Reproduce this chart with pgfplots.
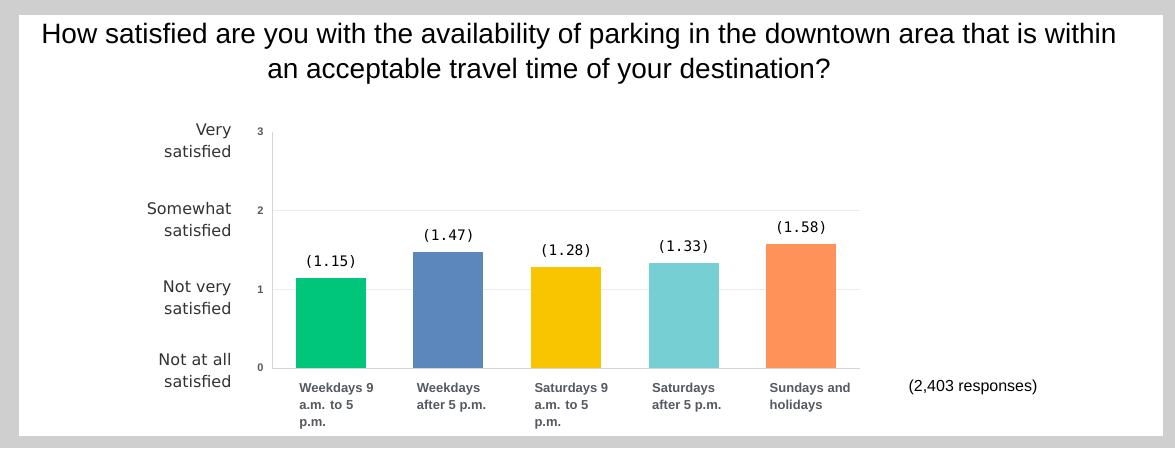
\documentclass[border=0pt]{standalone}
\usepackage{fontspec}
\setmainfont{Liberation Sans}
\newfontfamily\dejavu{DejaVu Sans}
\newfontfamily\mono{DejaVu Sans Mono}
\usepackage{pgfplots}
\pgfplotsset{compat=1.18}
\definecolor{bggray}{HTML}{D0CFD0}
\definecolor{cgreen}{HTML}{00C67C}
\definecolor{cblue}{HTML}{5B87BD}
\definecolor{cyellow}{HTML}{F9C400}
\definecolor{cteal}{HTML}{76CFD3}
\definecolor{corange}{HTML}{FF9259}
\definecolor{tickgray}{HTML}{555A60}
\definecolor{gridgray}{HTML}{EBEBEB}
\definecolor{axgray}{HTML}{D5D5D5}
\definecolor{labgray}{HTML}{333333}
\begin{document}
\begin{tikzpicture}[x=1pt,y=1pt]
\fill[bggray] (0,0) rectangle (1175,-448);
\fill[white] (19,-15) rectangle (1163,-436);
\node[font=\fontsize{28}{32}\selectfont, anchor=base] at (579,-43) {How satisfied are you with the availability of parking in the downtown area that is within};
\node[font=\fontsize{28}{32}\selectfont, anchor=base] at (549,-78) {an acceptable travel time of your destination?};
\node[font=\fontsize{16}{18}\selectfont, anchor=base west] at (905,-391) {(2,403 responses)};
\begin{axis}[
  at={(272pt,-368pt)}, anchor=south west,
  scale only axis, width=588pt, height=236pt,
  xmin=-0.5, xmax=4.5, ymin=0, ymax=3,
  axis lines*=left,
  axis line style={axgray, line width=0.8pt},
  x axis line style={-}, y axis line style={-},
  ytick={0,1,2},
  extra y ticks={3}, extra y tick style={grid=none},
  ymajorgrids, grid style={gridgray, line width=0.8pt},
  major tick length=0pt,
  yticklabel style={font=\fontsize{11}{12}\selectfont\bfseries, text=tickgray},
  yticklabel shift=5pt,
  xtick={0,1,2,3,4},
  xticklabels={{Weekdays 9\\a.m. to 5\\p.m.},{Weekdays\\after 5 p.m.},{Saturdays 9\\a.m. to 5\\p.m.},{Saturdays\\after 5 p.m.},{Sundays and\\holidays}},
  xticklabel style={font=\fontsize{13}{17}\selectfont\bfseries, text=tickgray, align=left, anchor=north west, xshift=-35pt, yshift=-12pt},
  ybar, bar width=70pt, bar shift=0pt,
  nodes near coords={\mono(\pgfmathprintnumber[fixed,fixed zerofill,precision=2]{\pgfplotspointmeta})},
  nodes near coords style={font=\fontsize{14.5}{17}\selectfont, text=black, yshift=6pt},
  clip=false,
  /pgf/number format/assume math mode=true,
]
\addplot[fill=cgreen, draw=none] coordinates {(0,1.15)};
\addplot[fill=cblue, draw=none] coordinates {(1,1.47)};
\addplot[fill=cyellow, draw=none] coordinates {(2,1.28)};
\addplot[fill=cteal, draw=none] coordinates {(3,1.33)};
\addplot[fill=corange, draw=none] coordinates {(4,1.58)};
\end{axis}
\begin{scope}[font=\dejavu\fontsize{16}{22}\selectfont, align=right, text=labgray]
\node[anchor=north east] at (235,-120) {Very\\satisfied};
\node[anchor=north east] at (235,-199) {Somewhat\\satisfied};
\node[anchor=north east] at (235,-277) {Not very\\satisfied};
\node[anchor=north east] at (235,-350) {Not at all\\satisfied};
\end{scope}
\end{tikzpicture}
\end{document}
